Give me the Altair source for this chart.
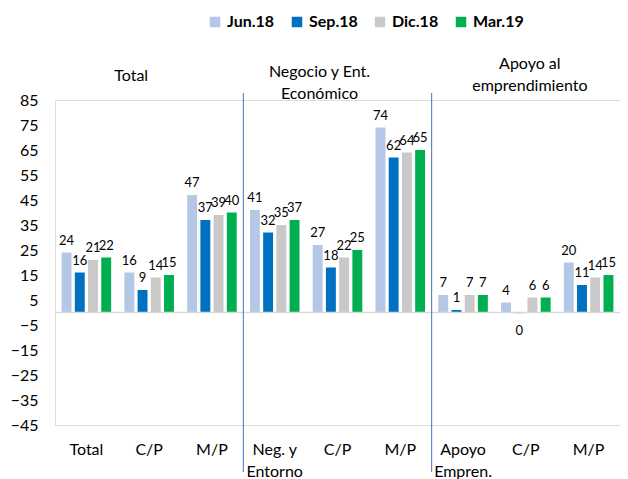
import altair as alt
import pandas as pd

categories = ["Total", "C/P", "M/P", "Neg. y|Entorno", "C/P#2", "M/P#2",
              "Apoyo|Empren.", "C/P#3", "M/P#3"]
series = ["Jun.18", "Sep.18", "Dic.18", "Mar.19"]
colors = ["#b4c7e7", "#0070c0", "#c9c9c9", "#00b050"]
jun18 = [24, 16, 47, 41, 27, 74, 7, 4, 20]
sep18 = [16, 9, 37, 32, 18, 62, 1, -0.4, 11]
dic18 = [21, 14, 39, 35, 22, 64, 7, 6, 14]
mar19 = [22, 15, 40, 37, 25, 65, 7, 6, 15]
y_ticks = [-45, -35, -25, -15, -5, 5, 15, 25, 35, 45, 55, 65, 75, 85]
section_titles = ["Total", "Negocio y Ent.|Económico", "Apoyo al|emprendimiento"]
section_anchor = ["C/P", "C/P#2", "C/P#3"]
separators = ["Neg. y|Entorno", "Apoyo|Empren."]

FONT = "Lato"

rows = []
for s, vals in zip(series, [jun18, sep18, dic18, mar19]):
    for c, v in zip(categories, vals):
        rows.append({"cat": c, "serie": s, "v": v})
df = pd.DataFrame(rows)

x_scale = alt.Scale(domain=categories, paddingInner=0, paddingOuter=0)
x_axis = alt.Axis(domain=False, ticks=False, labelFontSize=16,
                  labelFont=FONT, labelColor="#000000",
                  labelPadding=16, labelLineHeight=22,
                  labelAngle=0, labelBaseline="top", labelOverlap=False,
                  labelExpr="split(split(datum.label, '#')[0], '|')")
y_scale = alt.Scale(domain=[-45, 85], nice=False, zero=False)
y_axis = alt.Axis(values=y_ticks, domain=False, ticks=False, grid=False,
                  labelFontSize=16, labelFont=FONT, labelColor="#000000",
                  labelPadding=17, labelOverlap=False, labelFlush=False)


def X(**kw):
    return alt.X("cat:N", sort=categories, scale=x_scale, title=None, axis=x_axis, **kw)


def Y():
    return alt.Y("v:Q", scale=y_scale, title=None, axis=y_axis)


xoff = alt.XOffset("serie:N", sort=series,
                   scale=alt.Scale(domain=series, paddingInner=0.25, paddingOuter=0.5))

base = alt.Chart(df)

bars = base.mark_bar().encode(
    x=X(), y=Y(), xOffset=xoff,
    color=alt.condition(
        "datum.v < 0",
        alt.value("#b4c7e7"),
        alt.Color("serie:N", sort=series,
                  scale=alt.Scale(domain=series, range=colors),
                  legend=alt.Legend(title=None, orient="none", direction="horizontal",
                                    legendX=152, legendY=-86, columns=4,
                                    symbolType="square", symbolSize=110,
                                    symbolStrokeWidth=0, labelFontSize=16,
                                    labelFont=FONT, labelFontWeight="bold",
                                    labelColor="#000000", columnPadding=14,
                                    labelOffset=4)),
    ),
)

lbl = "round(datum.v) == 0 ? '0' : toString(round(datum.v))"

labels_pos = base.transform_filter("datum.v >= 0").transform_calculate(lbl=lbl).mark_text(
    baseline="bottom", dy=-5, fontSize=13, font=FONT, color="#000000"
).encode(x=X(), y=Y(), xOffset=xoff, text="lbl:N")

labels_neg = base.transform_filter("datum.v < 0").transform_calculate(lbl=lbl).mark_text(
    baseline="top", dy=11, fontSize=13, font=FONT, color="#000000"
).encode(x=X(), y=Y(), xOffset=xoff, text="lbl:N")

zero_df = pd.DataFrame({"v": [0]})
zero_line = alt.Chart(zero_df).mark_rule(color="#d9d9d9", strokeWidth=1.5).encode(y=Y())

sep_df = pd.DataFrame({"cat": separators})
sep_rules = alt.Chart(sep_df).mark_rule(color="#4472c4", strokeWidth=1).encode(
    x=X(bandPosition=0), y=alt.value(-7), y2=alt.value(372))


def title_layer(text, anchor, dx, ytop):
    d = pd.DataFrame({"cat": [anchor], "t": [text]})
    return alt.Chart(d).mark_text(
        baseline="top", align="center", fontSize=16, font=FONT, color="#000000",
        lineBreak="|", lineHeight=22, dx=dx
    ).encode(x=X(), y=alt.value(ytop), text="t:N")


titles = [
    title_layer(section_titles[0], section_anchor[0], -18, -32),
    title_layer(section_titles[1], section_anchor[1], -18, -36),
    title_layer(section_titles[2], section_anchor[2], 4, -44),
]

chart = alt.layer(bars, zero_line, labels_pos, labels_neg, sep_rules, *titles).properties(
    width=565, height=325,
    autosize=alt.AutoSizeParams(type="none"),
    padding={"left": 47, "top": 92, "right": 0, "bottom": 54},
).configure_view(stroke=None).configure(font=FONT)

chart.save("out.html", embed_options={"renderer": "svg", "actions": False})
